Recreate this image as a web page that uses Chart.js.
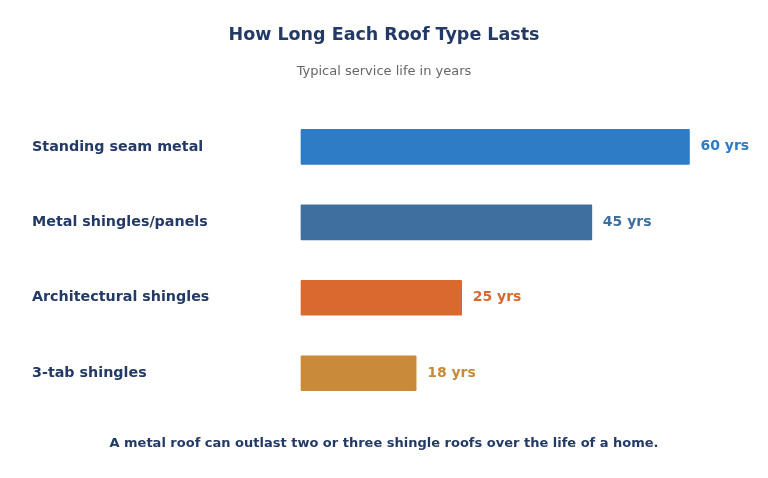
<!DOCTYPE html>
<html lang="en">
<head>
  <meta charset="UTF-8">
  <title>Roof lifespan</title>
  <style>
    body { margin: 0; background: #fff; }
    .wrap { width: 768px; height: 478px; position: relative; }
  </style>
</head>
<body>
  <div class="wrap">
    <canvas id="roofChart"></canvas>
  </div>

  <script src="https://cdn.jsdelivr.net/npm/chart.js@4"></script>
  <script>
    // ==== data ====
    const roofTypes = ['Standing seam metal', 'Metal shingles/panels', 'Architectural shingles', '3-tab shingles'];
    const lifeYears = [60, 45, 25, 18];
    const barColors = ['#2e7bc6', '#3e6f9e', '#d9692e', '#c98a3a'];
    const titleText = 'How Long Each Roof Type Lasts';
    const subtitleText = 'Typical service life in years';
    const footerText = 'A metal roof can outlast two or three shingle roofs over the life of a home.';

    const navy = '#243a66';
    const fontFam = '"DejaVu Sans", sans-serif';

    // value labels at the end of each bar + footer line
    const extras = {
      id: 'extras',
      afterDatasetsDraw(chart) {
        const ctx = chart.ctx;
        const meta = chart.getDatasetMeta(0);
        ctx.save();
        ctx.font = 'bold 14px ' + fontFam;
        ctx.textBaseline = 'middle';
        ctx.textAlign = 'left';
        meta.data.forEach((bar, i) => {
          ctx.fillStyle = barColors[i];
          ctx.fillText(lifeYears[i] + ' yrs', bar.x + 10, bar.y);
        });
        ctx.font = 'bold 13px ' + fontFam;
        ctx.fillStyle = navy;
        ctx.textAlign = 'center';
        ctx.fillText(footerText, chart.width / 2, 444);
        ctx.restore();
      }
    };

    new Chart(document.getElementById('roofChart'), {
      type: 'bar',
      data: {
        labels: roofTypes,
        datasets: [{
          data: lifeYears,
          backgroundColor: barColors,
          borderColor: 'rgba(255,255,255,0.45)',
          borderWidth: 1,
          borderSkipped: false,
          borderRadius: 2,
          barThickness: 37
        }]
      },
      options: {
        indexAxis: 'y',
        responsive: true,
        maintainAspectRatio: false,
        animation: false,
        layout: { padding: { left: 32, right: 32, top: 0, bottom: 67 } },
        plugins: {
          legend: { display: false },
          tooltip: { enabled: false },
          title: {
            display: true,
            text: titleText,
            color: navy,
            font: { family: fontFam, size: 17.5, weight: 'bold' },
            padding: { top: 24.5, bottom: 14 }
          },
          subtitle: {
            display: true,
            text: subtitleText,
            color: '#666',
            font: { family: fontFam, size: 13 },
            padding: { top: 4, bottom: 30 }
          }
        },
        scales: {
          x: {
            display: false,
            min: 0,
            max: 67
          },
          y: {
            grid: { display: false },
            border: { display: false },
            afterFit(scale) { scale.width = 268; },
            ticks: {
              crossAlign: 'far',
              color: navy,
              font: { family: fontFam, size: 14.3, weight: 'bold' }
            }
          }
        }
      },
      plugins: [extras]
    });
  </script>
</body>
</html>
